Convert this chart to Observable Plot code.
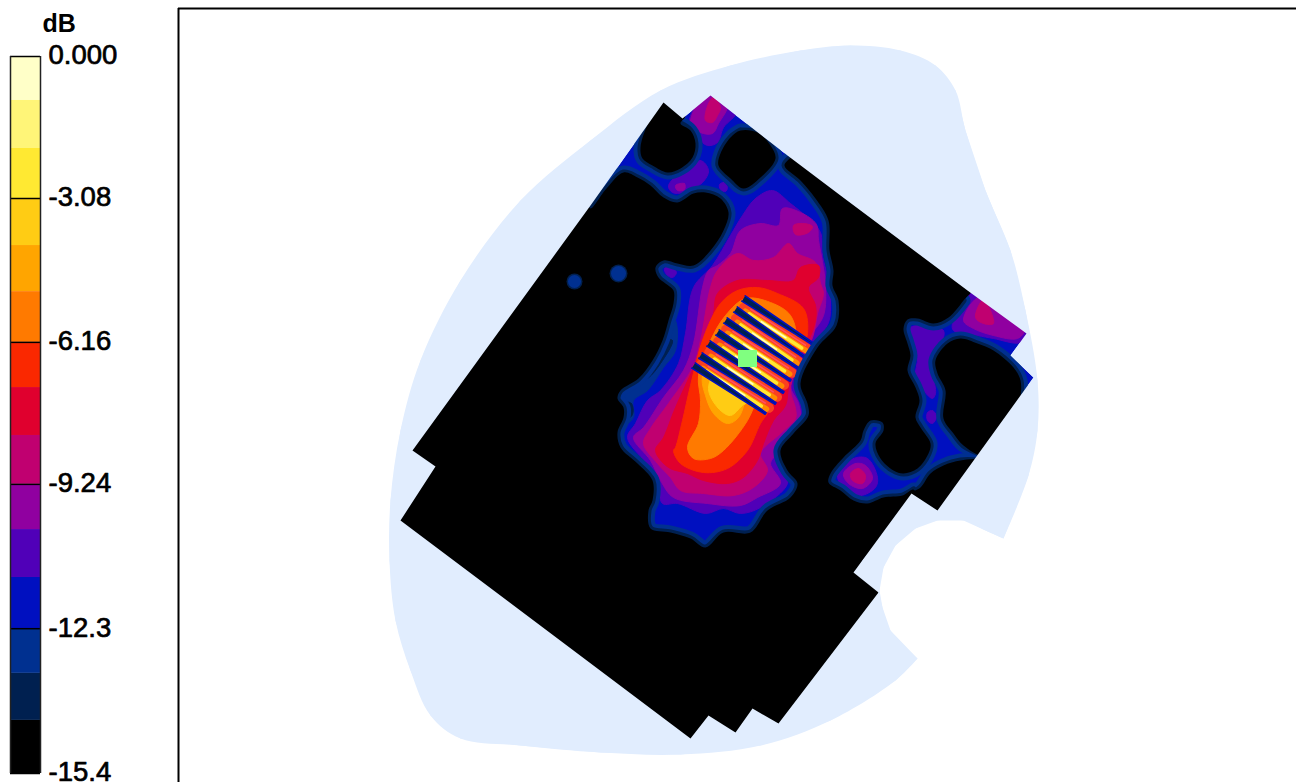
<!DOCTYPE html>
<html><head><meta charset="utf-8">
<style>html,body{margin:0;background:#fff;width:1296px;height:782px;overflow:hidden}
#legend,#map{position:absolute;left:0;top:0}</style>
<script src="https://cdn.jsdelivr.net/npm/d3@7"></script>
<script src="https://cdn.jsdelivr.net/npm/@observablehq/plot@0.6"></script>
</head><body><div id="map"></div><div id="legend"></div>
<script>
// colour bands, top (0 dB) to bottom (-15.4 dB)
const bandColors=["#FFFFC8","#FFF578","#FFE932","#FFCC14","#FFA500","#FF7A00","#FA2800","#E0002E","#C00070","#9000A0","#5000B8","#0010C0","#003090","#002050","#000000"];
const bandEdges=[0,-0.945,-1.976,-3.05,-4.06,-5.05,-6.14,-7.11,-8.14,-9.19,-10.16,-11.19,-12.29,-13.25,-14.26,-15.4];
const tickValues=[0,-3.05,-6.14,-9.19,-12.29,-15.4];
const tickLabels=["0.000","-3.08","-6.16","-9.24","-12.3","-15.4"];
const L={pale:0,lemon:1,yellow:2,gold:3,amber:4,orange:5,red:6,crimson:7,magenta:8,purple:9,indigo:10,blue:11,mid:12,navy:13,black:14};
const colorScale={type:"ordinal",domain:d3.range(15),range:bandColors};

// measured outline of the whole covered area (map units); repeated points are its two sharp corners
const hull=[[800,50],[850,45],[900,50],[935,65],[955,90],[965,130],[985,190],[1010,250],[1025,310],[1037,380],[1037,430],[1028,475],[1003,538],[1003,538],[985,530],[963,520],[937,520],[915,528],[895,545],[883,567],[879,590],[882,607],[890,630],[917,658],[917,658],[895,680],[830,720],[760,745],[680,754],[600,752],[520,745],[460,738],[430,715],[410,670],[395,620],[389,560],[390,500],[400,430],[420,360],[460,280],[520,200],[590,140],[660,90],[730,65]];
const footprint=[[412,450],[590,205],[663,102],[682,118],[710,95],[787,155],[840,195],[967,290],[1026,333],[1010,355],[1033,377],[937,510],[911,493],[853,572],[878,592],[778,723],[752,708],[735,732],[708,715],[690,738],[400,520],[435,466]];

// contour regions, painted in order on the blue base
const indigoMain=[[742,215],[755,198],[772,190],[790,203],[808,218],[820,232],[822,255],[826,272],[830,300],[828,322],[812,345],[795,385],[802,405],[802,418],[785,437],[775,452],[782,470],[787,483],[760,507],[740,513],[723,508],[705,513],[677,503],[662,503],[657,480],[645,462],[627,437],[635,423],[647,400],[660,390],[678,363],[685,333],[693,287],[712,265],[730,235]];
const purpleMain=[[740,230],[760,223],[778,225],[782,208],[800,212],[816,224],[818,240],[822,262],[825,285],[823,315],[807,340],[790,385],[798,403],[800,420],[790,437],[777,453],[770,463],[780,483],[757,497],[740,505],[707,503],[673,497],[660,480],[650,460],[633,437],[643,427],[663,397],[683,370],[693,343],[702,287],[708,270],[717,265],[730,253]];
const magentaMain=[[737,253],[753,260],[773,257],[788,243],[797,253],[815,262],[820,283],[823,293],[817,313],[812,337],[795,370],[790,390],[795,408],[795,418],[780,433],[760,453],[767,470],[753,487],[733,495],[703,493],[680,490],[670,477],[657,463],[643,443],[650,428],[668,403],[692,367],[700,340],[710,287],[717,270]];
const magentaPatch=[[793,225],[803,223],[812,226],[808,232],[795,234]];
const crimsonMain=[[717,293],[737,280],[767,280],[793,280],[800,267],[818,265],[818,277],[808,287],[815,305],[815,320],[808,340],[793,363],[788,387],[785,405],[773,420],[763,443],[757,460],[743,477],[727,483],[703,480],[687,473],[668,467],[655,450],[663,437],[675,407],[695,363],[705,340],[713,313]];
const redMain=[[720,303],[737,290],[757,287],[777,293],[803,308],[807,333],[800,353],[787,370],[777,397],[767,413],[760,423],[747,450],[727,468],[703,472],[680,463],[673,450],[675,447],[682,420],[690,385],[703,337]];
const orangeMain=[[725,315],[745,298],[770,302],[790,315],[795,340],[775,365],[760,390],[747,420],[723,450],[710,458],[693,458],[687,447],[698,423],[700,400],[698,375],[710,340]];
const amberMain=[[728,325],[748,310],[770,315],[785,325],[775,350],[750,385],[738,417],[727,423],[713,413],[705,395],[702,375]];
const goldMain=[[708,388],[718,408],[730,415],[742,405],[752,398],[735,380],[718,368]];
const midWedge=[[668,315],[675,320],[675,350],[663,367],[647,390],[633,400],[633,417],[622,425],[615,400],[640,375],[655,345]];
const navyWedge=[[662,340],[672,340],[660,363],[647,378],[630,385],[620,390],[652,360]];
const navyPatch=[[622,402],[631,403],[632,414],[624,420]];
const indigoTop=[[688,125],[708,90],[736,111],[723,127],[717,142],[707,145],[697,137]];
const purpleTop=[[690,123],[708,90],[727,104],[718,123],[712,133],[700,132]];
const magentaTop=[[705,120],[708,103],[713,97],[720,107],[717,115],[712,122]];
const indigoNet=[[668,185],[700,160],[708,170],[702,182],[683,192],[672,192]];
const purpleNet=[[675,185],[684,183],[684,189],[677,190]];
const indigoSpot=[[719,184],[723,182],[727,187],[725,191],[720,189]];
const indigoSpot3=[[664,268],[670,266],[676,272],[672,277],[666,274]];
const indigoLobe=[[952,323],[970,291],[1026,331],[1020,342],[993,338],[977,335],[953,330]];
const purpleLobe=[[963,320],[980,296],[1024,329],[1017,338],[993,335],[973,328]];
const magentaLobe=[[975,317],[983,299],[993,323],[983,323]];
const indigoVert=[[910,327],[943,330],[937,353],[933,373],[935,393],[932,398],[923,390],[915,377],[917,357],[912,340]];
const indigoSpot2=[[927,412],[932,410],[936,416],[932,423],[927,420]];
const indigoBlob=[[837,473],[853,458],[867,458],[877,477],[875,487],[860,495],[843,488]];
const purpleBlob=[[843,473],[855,463],[865,465],[872,478],[862,488],[848,483]];
const magentaBlob=[[850,473],[858,468],[865,475],[862,483],[852,480]];

// low-level regions (black): free edges with a rim, then the sides along the footprint
const blackEdge=[[590,208],[606,188],[623,172],[637,177],[650,185],[663,197],[677,202],[693,193],[705,192],[720,198],[728,212],[723,230],[710,250],[693,265],[677,263],[663,260],[655,267],[658,277],[665,283],[673,290],[673,303],[668,320],[662,340],[652,360],[638,378],[620,390],[617,398],[623,407],[623,417],[617,432],[620,447],[637,463],[652,480],[652,500],[648,510],[650,528],[670,532],[690,538],[705,547],[723,532],[750,532],[767,510],[790,497],[797,483],[787,470],[780,450],[793,433],[808,415],[807,403],[800,383],[817,347],[836,325],[838,300],[832,285],[833,270],[829,250],[828,220],[815,198],[800,180],[784,165],[790,157]];
const blackEdge2=[[963,300],[948,317],[933,323],[917,318],[907,319],[903,328],[907,343],[910,355],[907,370],[915,387],[919,400],[915,417],[920,427],[930,443],[928,453],[917,468],[903,473],[893,470],[880,458],[875,443],[883,430],[882,422],[870,420],[863,430],[860,440],[843,457],[830,473],[828,482],[840,490],[853,500],[867,503],[883,497],[902,495],[913,489]];
const blackOuterA=[[793,152],[840,190],[905,238],[972,287]];
const blackOuterB=[[916,497],[890,533],[860,566],[878,592],[830,660],[784,726],[735,736],[690,742],[545,634],[397,522],[405,485],[409,449],[500,322],[587,203]];
const blackAFree=[[680,123],[690,130],[695,143],[692,157],[680,168],[667,172],[652,165],[642,158],[640,147],[648,122]];
const blackATip=[[663,99],[685,115]];
const blackB=[[740,130],[757,132],[770,145],[775,158],[760,177],[743,188],[730,178],[718,165],[720,153],[730,137]];
const blackFFree=[[985,455],[963,445],[953,433],[943,418],[945,390],[937,373],[935,360],[947,343],[960,338],[977,343],[993,350],[1013,367],[1020,380],[1020,397]];
const blackFOuter=[[1018,407]];
const blackEFree=[[907,495],[920,487],[930,473],[943,465],[960,460],[977,460]];
const blackEOuter=[[938,513]];

const paintOrder=[
 ["indigo",indigoMain],["mid",midWedge],["navy",navyWedge],["navy",navyPatch],["purple",purpleMain],["magenta",magentaMain],["magenta",magentaPatch],["crimson",crimsonMain],["red",redMain],["orange",orangeMain],["amber",amberMain],["gold",goldMain],
 ["indigo",indigoTop],["purple",purpleTop],["magenta",magentaTop],["indigo",indigoNet],["purple",purpleNet],["indigo",indigoSpot],["indigo",indigoSpot3],
 ["indigo",indigoLobe],["purple",purpleLobe],["magenta",magentaLobe],["indigo",indigoVert],["indigo",indigoSpot2],
 ["indigo",indigoBlob],["purple",purpleBlob],["magenta",magentaBlob]
];
const blackMain=[...blackEdge,...blackOuterA,...blackEdge2,...blackOuterB];
const blackRegions=[blackMain,[...blackAFree,...blackATip],blackB,[...blackFFree,...blackFOuter],[...blackEFree,...blackEOuter]];
const rimRegions=[blackEdge,blackEdge2,blackAFree,[...blackB,blackB[0]],blackFFree,blackEFree];
const spots=[{x:618,y:273,r:9},{x:574,y:281,r:8}];

// fringe stripes: start and end of each dark band
const stripes=[[743,298,815,345],[735,309,805,357],[725,320,798,368],[717,332,790,380],[708,343,783,392],[700,355,775,403],[693,365,765,413]];
const sensor={x1:738,x2:757,y1:350,y2:367};

function rows(list,levelName,idBase){return list.flatMap((p,i)=>p.map(([x,y])=>({x,y,id:idBase+"-"+i,level:L[levelName]})))}
const regionRows=paintOrder.flatMap(([n,p],i)=>rows([p],n,"r"+i));
const blackRows=rows(blackRegions,"black","b");
const rimRows=rimRegions.flatMap((p,i)=>p.map(([x,y])=>({x,y,id:i})));
const footRows=footprint.map(([x,y])=>({x,y,id:"f",level:L.blue}));
const hullRows=hull.map(([x,y])=>({x,y}));
// covered area outside the footprint: hull with the footprint cut out
const maskRows=[...hull,hull[0],footprint[0],...footprint.slice().reverse(),footprint[0],hull[0]].map(([x,y])=>({x,y}));

// tapered dark band: wide at its upper-left start, narrow at its far end
const stripeRows=stripes.flatMap((s,i)=>{const n=Math.hypot(s[2]-s[0],s[3]-s[1]),nx=-(s[3]-s[1])/n,ny=(s[2]-s[0])/n;
 return [[s[0],s[1],3.2],[s[2],s[3],0.9]].flatMap(([x,y,w],j)=>[{x:x+nx*w,y:y+ny*w,id:i,o:j},{x:x-nx*w,y:y-ny*w,id:i,o:3-j}]).sort((a,b)=>a.o-b.o)});
function shifted(dx,dy,a=0,b=1){return stripes.slice(0,-1).flatMap((s,i)=>{const x=t=>s[0]+(s[2]-s[0])*t+dx,y=t=>s[1]+(s[3]-s[1])*t+dy;return [{x:x(a),y:y(a),id:i},{x:x(b),y:y(b),id:i}]})}

const smooth="catmull-rom-closed";
const mapPlot=Plot.plot({
 width:1296,height:782,marginLeft:178,marginTop:8,marginRight:0,marginBottom:0,
 x:{domain:[178,1296],axis:null},y:{domain:[782,8],axis:null},
 color:colorScale,style:{background:"transparent"},
 marks:[
  Plot.line(hullRows,{x:"x",y:"y",fill:"#E1EDFE",stroke:null,curve:smooth}),
  Plot.line(footRows,{x:"x",y:"y",z:"id",fill:"level",stroke:null}),
  Plot.line(regionRows,{x:"x",y:"y",z:"id",fill:"level",stroke:"level",strokeWidth:1,curve:smooth}),
  // fringes
  Plot.line(shifted(-4,6,0.06,0.97),{x:"x",y:"y",z:"id",stroke:"#FA4020",strokeWidth:9.5,strokeLinecap:"round"}),
  Plot.line(shifted(-5.2,8,0.1,0.95),{x:"x",y:"y",z:"id",stroke:"#FF8A00",strokeWidth:5.5,strokeLinecap:"round"}),
  Plot.line(shifted(-2.8,4.3,0.14,0.9),{x:"x",y:"y",z:"id",stroke:"#FF5060",strokeWidth:1.6}),
  Plot.line(shifted(-5.2,8.2,0.15,0.88),{x:"x",y:"y",z:"id",stroke:"#FFE932",strokeWidth:3.5,strokeLinecap:"round"}),
  Plot.line(shifted(-5.2,8.2,0.32,0.66),{x:"x",y:"y",z:"id",stroke:"#FFFFC8",strokeWidth:1.6}),
  Plot.line(stripeRows,{x:"x",y:"y",z:"id",fill:bandColors[L.navy],stroke:bandColors[L.blue],strokeWidth:1.6,strokeLinejoin:"round"}),
  Plot.rect([sensor],{x1:"x1",x2:"x2",y1:"y1",y2:"y2",fill:"#80FF80"}),
  // black regions with rims
  Plot.line(rimRows,{x:"x",y:"y",z:"id",stroke:bandColors[L.mid],strokeWidth:14,curve:"catmull-rom"}),
  Plot.line(rimRows,{x:"x",y:"y",z:"id",stroke:bandColors[L.navy],strokeWidth:6,curve:"catmull-rom"}),
  Plot.line(blackRows,{x:"x",y:"y",z:"id",fill:"level",stroke:null,curve:smooth}),
  Plot.dot(spots,{x:"x",y:"y",r:"r",fill:bandColors[L.navy]}),
  Plot.dot(spots,{x:"x",y:"y",r:d=>d.r-1.5,fill:bandColors[L.mid]}),
  // surrounding coverage area, on top so rims stop at the footprint edge
  Plot.line(maskRows,{x:"x",y:"y",fill:"#E1EDFE",stroke:null}),
  Plot.ruleX([178],{y1:8,y2:782,stroke:"#000",strokeWidth:2}),
  Plot.ruleY([8],{x1:178,x2:1296,stroke:"#000",strokeWidth:2})
 ],
 r:{type:"identity"}
});
document.getElementById("map").append(mapPlot);

const bandRows=bandColors.map((c,i)=>({level:i,top:bandEdges[i],bottom:bandEdges[i+1]}));
const legendPlot=Plot.plot({
 width:178,height:782,marginLeft:10,marginRight:138,marginTop:56,marginBottom:9,
 x:{domain:[0,1],axis:null},y:{domain:[-15.4,0],axis:null},
 color:colorScale,style:{background:"transparent",overflow:"visible"},
 marks:[
  Plot.rectY(bandRows,{x1:0,x2:1,y1:"top",y2:"bottom",fill:"level",inset:0}),
  Plot.ruleY(tickValues,{x1:0,x2:1,stroke:"#000",strokeWidth:1.5}),
  Plot.ruleX([0,1],{y1:0,y2:-15.4,stroke:"#222",strokeWidth:1.5}),
  Plot.axisY(tickValues,{anchor:"right",tickSize:0,tickPadding:8,dy:-1,tickFormat:(d,i)=>tickLabels[i],fontSize:27.5,fontFamily:"Liberation Sans",fill:"#000",label:null,textStroke:"#000",textStrokeWidth:0.7}),
  Plot.text(["dB"],{frameAnchor:"top-left",dx:32,dy:-42,fontSize:25,fontWeight:"bold",fontFamily:"Liberation Sans",textAnchor:"start",lineAnchor:"top",fill:"#000"})
 ]
});
document.getElementById("legend").append(legendPlot);
</script></body></html>
